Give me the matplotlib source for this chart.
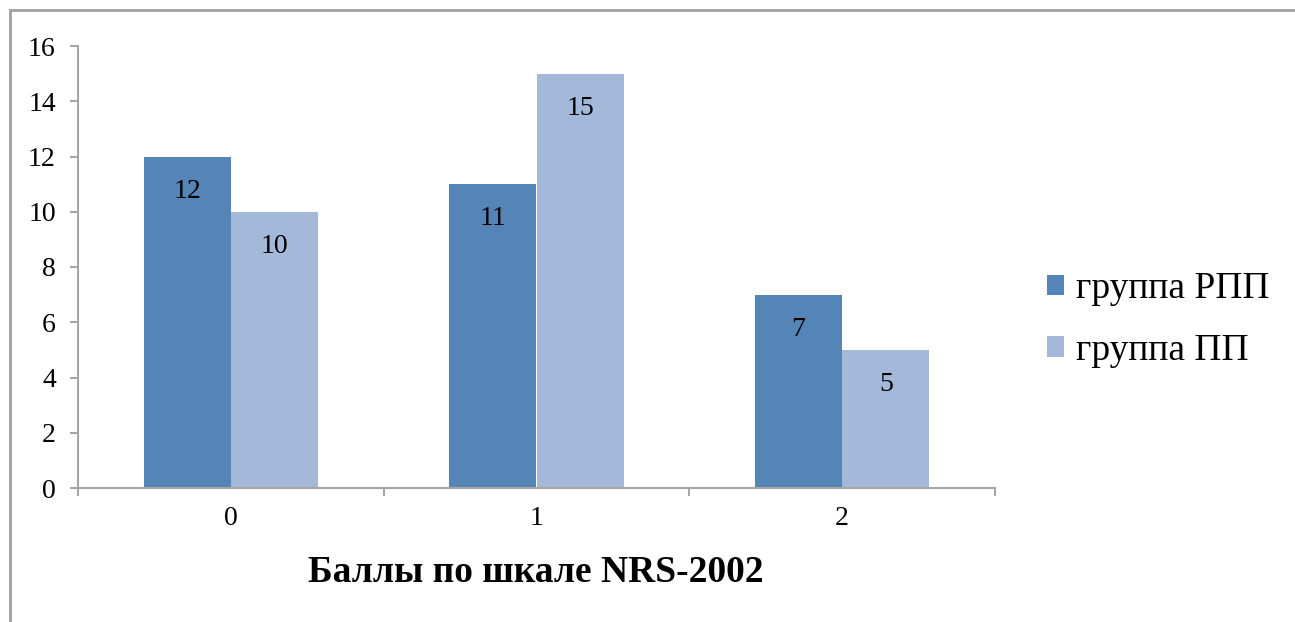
import numpy as np
import matplotlib.pyplot as plt
from matplotlib.patches import Rectangle

categories = ['0', '1', '2']
series_names = ['группа РПП', 'группа ПП']
rpp_values = [12, 11, 7]
pp_values = [10, 15, 5]
y_ticks = [0, 2, 4, 6, 8, 10, 12, 14, 16]
x_title = 'Баллы по шкале NRS-2002'

DARK = '#5585B6'
LIGHT = '#A4B8D9'
AXIS_GRAY = '#A6A6A6'

plt.rcParams['font.family'] = 'serif'
plt.rcParams['font.serif'] = ['Liberation Serif', 'Times New Roman', 'DejaVu Serif']

fig = plt.figure(figsize=(12.95, 6.22), dpi=100)
W, H = 1295, 622
ax = fig.add_axes([78 / W, (H - 488) / H, (995 - 78) / W, (488 - 46) / H])

x = np.arange(len(categories))
bw = 1 / 3.5  # excel gap width 150%
bars1 = ax.bar(x - bw / 2, rpp_values, bw, color=DARK, label=series_names[0])
bars2 = ax.bar(x + bw / 2, pp_values, bw, color=LIGHT, label=series_names[1])

for bars in (bars1, bars2):
    for b in bars:
        ax.annotate(str(int(b.get_height())), (b.get_x() + b.get_width() / 2, b.get_height()),
                    xytext=(0, -25), textcoords='offset points', ha='center', va='center', fontsize=20)

ax.set_xlim(-0.5, len(categories) - 0.5)
ax.set_ylim(0, 16)
ax.set_yticks(y_ticks)
ax.set_xticks(x)
ax.set_xticklabels(categories)
ax.set_xticks(np.arange(-0.5, len(categories)), minor=True)
ax.tick_params(axis='y', direction='out', length=6, width=1.5, color=AXIS_GRAY, labelsize=20, pad=10)
ax.tick_params(axis='x', which='major', length=0, labelsize=20, pad=13)
ax.tick_params(axis='x', which='minor', direction='out', length=6, width=1.5, color=AXIS_GRAY)

for s in ('top', 'right'):
    ax.spines[s].set_visible(False)
for s in ('left', 'bottom'):
    ax.spines[s].set_color(AXIS_GRAY)
    ax.spines[s].set_linewidth(1.5)

fig.text(536 / W, 1 - 572 / H, x_title, ha='center', va='center', fontsize=27, fontweight='bold')

fig.legend(handles=[bars1, bars2], loc='center left', bbox_to_anchor=(1047 / W, 1 - 320 / H),
           frameon=False, fontsize=27, borderpad=0, borderaxespad=0, handlelength=0.46,
           handleheight=0.46, handletextpad=0.3, labelspacing=0.72)

# outer chart frame (cut at right and bottom edges)
fig.patches.append(Rectangle((10 / W, -0.1), 1.2, 1 - 10 / H + 0.1, transform=fig.transFigure,
                             fill=False, edgecolor='#A0A0A0', linewidth=2))

fig.savefig('out.png', dpi=100)
